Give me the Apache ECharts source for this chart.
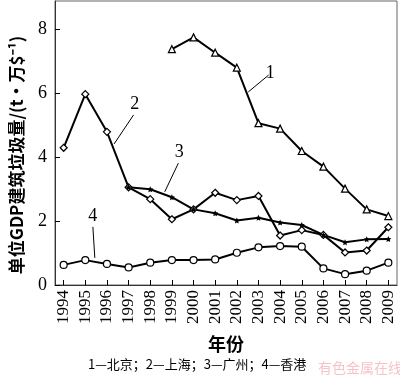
<!DOCTYPE html>
<html>
<head>
<meta charset="utf-8">
<script src="https://cdn.jsdelivr.net/npm/echarts@6/dist/echarts.min.js"></script>
<style>
  html, body { margin: 0; padding: 0; background: #fff; }
  #chart { width: 400px; height: 377px; }
</style>
</head>
<body>
<div id="chart"></div>
<script>
// 年份
var years = [1994, 1995, 1996, 1997, 1998, 1999, 2000, 2001, 2002, 2003, 2004, 2005, 2006, 2007, 2008, 2009];
// 1—北京
var beijing = ['-', '-', '-', '-', '-', 7.39, 7.76, 7.28, 6.81, 5.07, 4.90, 4.20, 3.71, 3.02, 2.37, 2.16];
// 2—上海
var shanghai = [4.30, 5.98, 4.80, 3.06, 2.69, 2.06, 2.37, 2.89, 2.66, 2.79, 1.55, 1.72, 1.57, 1.02, 1.08, 1.81];
// 3—广州
var guangzhou = ['-', '-', '-', 3.06, 3.00, 2.75, 2.37, 2.25, 2.02, 2.11, 1.96, 1.88, 1.57, 1.34, 1.43, 1.44];
// 4—香港
var hongkong = [0.63, 0.78, 0.66, 0.55, 0.70, 0.78, 0.78, 0.80, 1.01, 1.18, 1.22, 1.20, 0.52, 0.34, 0.45, 0.70];
// 纵轴刻度
var yTicks = [0, 2, 4, 6, 8];

var serif = 'Liberation Serif';
var cjk = 'Noto Sans CJK SC';
var starPath = 'path://M0,-10L2.9,-4L9.5,-3.1L4.7,1.5L5.9,8.1L0,5L-5.9,8.1L-4.7,1.5L-9.5,-3.1L-2.9,-4Z';

function pairs(arr) {
    return years.map(function(y, i) { return [y, arr[i]]; });
}

// 引线标注
function leader(name, from, to) {
    return {
        silent: true,
        symbol: ['none', 'none'],
        lineStyle: { color: '#000', width: 1, type: 'solid' },
        label: {
            show: true, position: 'end', distance: 2, formatter: name,
            color: '#000', fontSize: 18, fontFamily: serif
        },
        data: [[{ coord: from }, { coord: to }]]
    };
}

function lineSeries(name, arr, symbol, size, fill, bw, mark) {
    return {
        name: name,
        type: 'line',
        data: pairs(arr),
        symbol: symbol,
        symbolSize: size,
        showAllSymbol: true,
        lineStyle: { color: '#000', width: 2 },
        itemStyle: { color: fill, borderColor: '#000', borderWidth: bw },
        emphasis: { disabled: true },
        markLine: mark,
        z: 3
    };
}

var chart = echarts.init(document.getElementById('chart'));
chart.setOption({
    animation: false,
    backgroundColor: '#fff',
    grid: {
        left: 45, right: 3, top: 1, bottom: 92,
        show: true, borderColor: '#666', borderWidth: 1
    },
    xAxis: {
        type: 'value',
        min: 1993.6,
        max: 2009.4,
        name: '年份',
        nameLocation: 'middle',
        nameGap: 50,
        nameTextStyle: { fontFamily: cjk, fontSize: 18, fontWeight: 'bold', color: '#000' },
        axisLine: { lineStyle: { color: '#333' } },
        axisTick: { inside: true, length: 5, customValues: years, lineStyle: { color: '#000' } },
        axisLabel: {
            customValues: years, rotate: 90, margin: 5,
            fontFamily: serif, fontSize: 17, color: '#000',
            formatter: function(v) { return String(Math.round(v)); }
        },
        splitLine: { show: false }
    },
    yAxis: {
        type: 'value',
        min: 0,
        max: 8.9,
        name: '单位GDP建筑垃圾量/(t•万$⁻¹)',
        nameLocation: 'middle',
        nameGap: 30,
        nameRotate: 90,
        nameTextStyle: { fontFamily: cjk, fontSize: 17, fontWeight: 'bold', color: '#000', padding: [0, 0, 0, -24] },
        axisLine: { lineStyle: { color: '#333' } },
        axisTick: { inside: true, length: 5, customValues: yTicks, lineStyle: { color: '#000' } },
        axisLabel: { customValues: yTicks, margin: 8, fontFamily: serif, fontSize: 18, color: '#000' },
        splitLine: { show: false }
    },
    series: [
        lineSeries('北京', beijing, 'triangle', 7, '#fff', 1.2, leader('1', [2002.53, 6.05], [2003.47, 6.58])),
        lineSeries('上海', shanghai, 'diamond', 7, '#fff', 1.2, leader('2', [1996.33, 4.42], [1997.23, 5.33])),
        lineSeries('广州', guangzhou, starPath, 6, '#000', 0, leader('3', [1998.67, 2.92], [1999.30, 3.82])),
        lineSeries('香港', hongkong, 'circle', 7, '#fff', 1.2, leader('4', [1995.44, 0.85], [1995.35, 1.82]))
    ],
    graphic: [
        {
            type: 'text', left: 88, top: 358,
            style: { text: '1—北京；2—上海；3—广州；4—香港', font: '13px "Noto Sans CJK SC"', fill: '#000' }
        },
        {
            type: 'text', left: 318, top: 361,
            style: { text: '有色金属在线', font: '14px "Noto Sans CJK SC"', fill: 'rgba(235, 120, 130, 0.45)' }
        }
    ]
});
</script>
</body>
</html>
